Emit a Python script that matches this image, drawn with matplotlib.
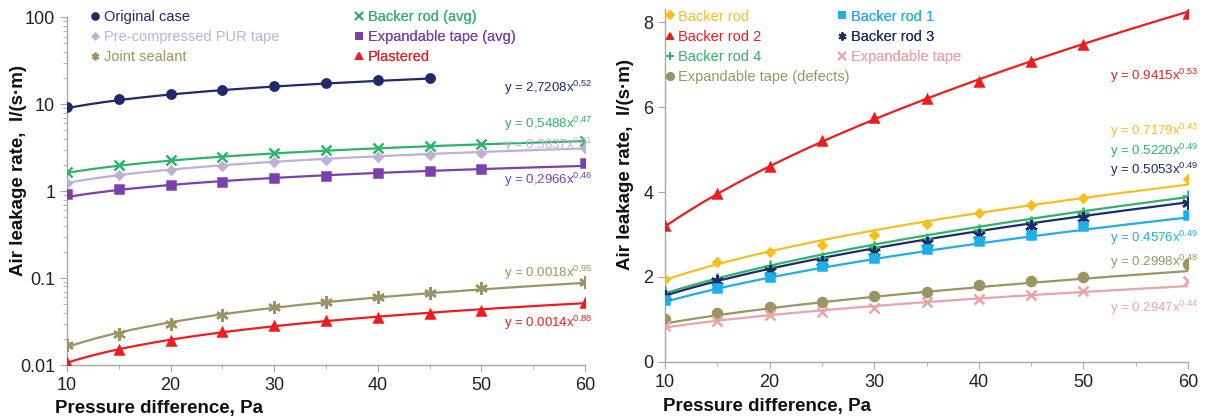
import numpy as np
import matplotlib
matplotlib.use("Agg")
import matplotlib.pyplot as plt
from matplotlib.lines import Line2D
from matplotlib.ticker import MultipleLocator, LogLocator, NullFormatter, FixedLocator

plt.rcParams['font.family'] = ['Liberation Sans', 'DejaVu Sans']
plt.rcParams['mathtext.default'] = 'regular'

# ------------------------ DATA ------------------------

pressure = [10, 15, 20, 25, 30, 35, 40, 45, 50, 60]
pressure_orig = [10, 15, 20, 25, 30, 35, 40, 45]

# left panel (log scale)
original_case = [9.3, 11.5, 13.0, 14.7, 16.0, 17.5, 18.8, 20.0]
backer_rod_avg = [1.65, 2.0, 2.3, 2.5, 2.75, 2.95, 3.1, 3.3, 3.45, 3.75]
pur_tape = [1.25, 1.55, 1.75, 1.95, 2.15, 2.3, 2.45, 2.6, 2.75, 3.1]
exp_tape_avg = [0.92, 1.05, 1.18, 1.28, 1.4, 1.5, 1.6, 1.7, 1.78, 2.1]
joint_sealant = [0.017, 0.023, 0.030, 0.038, 0.046, 0.053, 0.061, 0.068, 0.076, 0.089]
plastered = [0.0105, 0.015, 0.019, 0.024, 0.028, 0.032, 0.035, 0.039, 0.042, 0.051]

# right panel (linear scale)
backer_rod = [1.95, 2.35, 2.6, 2.75, 3.0, 3.25, 3.5, 3.7, 3.85, 4.3]
backer_rod_1 = [1.45, 1.75, 2.0, 2.25, 2.45, 2.65, 2.85, 3.0, 3.2, 3.45]
backer_rod_2 = [3.2, 3.95, 4.6, 5.2, 5.75, 6.2, 6.6, 7.05, 7.45, 8.2]
backer_rod_3 = [1.55, 1.9, 2.15, 2.35, 2.6, 2.8, 3.0, 3.2, 3.4, 3.75]
backer_rod_4 = [1.65, 1.95, 2.25, 2.45, 2.7, 2.9, 3.1, 3.3, 3.5, 3.9]
exp_tape_defects = [1.0, 1.15, 1.3, 1.4, 1.55, 1.65, 1.8, 1.9, 2.0, 2.3]
exp_tape = [0.85, 0.97, 1.1, 1.18, 1.28, 1.4, 1.48, 1.58, 1.68, 1.9]

# power trendline coefficients y = a*x^b, as printed on the chart
left_coef_a = [2.7208, 0.5488, 0.3837, 0.2966, 0.0018, 0.0014]
left_coef_b = [0.52, 0.47, 0.51, 0.46, 0.95, 0.88]
left_eq_labels = ["y = 2,7208x$^{0{,}52}$", "y = 0,5488x$^{0{,}47}$", "y = 0,3837x$^{0{,}51}$",
                  "y = 0,2966x$^{0{,}46}$", "y = 0.0018x$^{0{,}95}$", "y = 0.0014x$^{0.88}$"]
left_names = ["Original case", "Backer rod (avg)", "Pre-compressed PUR tape",
              "Expandable tape (avg)", "Joint sealant", "Plastered"]

right_coef_a = [0.9415, 0.7179, 0.5220, 0.5053, 0.4576, 0.2998, 0.2947]
right_coef_b = [0.53, 0.43, 0.49, 0.49, 0.49, 0.48, 0.44]
right_eq_labels = ["y = 0.9415x$^{0.53}$", "y = 0.7179x$^{0.43}$", "y = 0.5220x$^{0.49}$",
                   "y = 0.5053x$^{0.49}$", "y = 0.4576x$^{0.49}$", "y = 0.2998x$^{0.48}$",
                   "y = 0.2947x$^{0.44}$"]
right_names = ["Backer rod 2", "Backer rod", "Backer rod 4", "Backer rod 3",
               "Backer rod 1", "Expandable tape (defects)", "Expandable tape"]

# ------------------------ STYLE ------------------------

NAVY = '#1f2a6b'
GREEN = '#2fb36a'
LAVENDER = '#bfb0d8'
PURPLE = '#7b3fae'
OLIVE = '#9b9463'
RED = '#ee1c1c'
GOLD = '#f7bf1e'
SKY = '#1eaee9'
PINK = '#eba3ab'
AXIS_GREY = '#a6a6a6'

left_series = [
    (pressure_orig, original_case, NAVY, 'o', 6),
    (pressure, backer_rod_avg, GREEN, 'x', 7),
    (pressure, pur_tape, LAVENDER, 'D', 4),
    (pressure, exp_tape_avg, PURPLE, 's', 6),
    (pressure, joint_sealant, OLIVE, (6, 2, 0), 9),
    (pressure, plastered, RED, '^', 6),
]
left_eq_y = [15.3, 6.0, 3.4, 1.34, 0.114, 0.0304]

right_series = [
    (pressure, backer_rod_2, RED, '^', 6),
    (pressure, backer_rod, GOLD, 'D', 4.5),
    (pressure, backer_rod_4, GREEN, '+', 8),
    (pressure, backer_rod_3, NAVY, (6, 2, 0), 9),
    (pressure, backer_rod_1, SKY, 's', 6),
    (pressure, exp_tape_defects, OLIVE, 'o', 6.5),
    (pressure, exp_tape, PINK, 'x', 7),
]
right_eq_y = [6.73, 5.45, 4.98, 4.51, 2.92, 2.35, 1.27]


def style_axes(ax, xlabel_x, ylabel_x):
    for side in ('top', 'right'):
        ax.spines[side].set_visible(False)
    for side in ('left', 'bottom'):
        ax.spines[side].set_color(AXIS_GREY)
        ax.spines[side].set_linewidth(1.0)
    ax.tick_params(which='both', color=AXIS_GREY, direction='out', labelsize=13, labelcolor='#222222')
    ax.tick_params(which='major', length=5)
    ax.tick_params(which='minor', length=3)
    ax.set_xlim(10, 60)
    ax.xaxis.set_major_locator(MultipleLocator(10))
    ax.xaxis.set_minor_locator(MultipleLocator(5))
    ax.text(xlabel_x, -0.125, "Pressure difference, Pa", transform=ax.transAxes,
            ha='left', va='center', fontsize=13.5, fontweight='bold', color='#111111')
    ax.text(ylabel_x, 0.56, "Air leakage rate,  l/(s\u00b7m)", transform=ax.transAxes,
            rotation=90, ha='center', va='center', fontsize=13.5, fontweight='bold',
            color='#111111')


def draw_series(ax, series, coef_a, coef_b):
    for (xs, ys, color, marker, ms), a, b in zip(series, coef_a, coef_b):
        xt = np.linspace(xs[0], xs[-1], 200)
        ax.plot(xt, a * xt ** b, color=color, lw=1.6, zorder=2)
        ax.plot(xs, ys, ls='none', marker=marker, ms=ms, color=color,
                mec=color, mew=1.8, zorder=3)


def make_legend(ax, idx, series, names, x0, y0):
    handles = [Line2D([], [], ls='none', marker=series[i][3],
                      ms=min(series[i][4], 7) * 0.8, color=series[i][2], mew=1.4) for i in idx]
    labels = [names[i] for i in idx]
    leg = ax.legend(handles, labels, loc='upper left', bbox_to_anchor=(x0, y0),
                    bbox_transform=fig.transFigure, frameon=False, fontsize=10.5,
                    handlelength=0.6, handletextpad=0.3, labelspacing=0.42,
                    borderpad=0, borderaxespad=0)
    for txt, i in zip(leg.get_texts(), idx):
        txt.set_color(series[i][2])
    ax.add_artist(leg)
    return leg


fig = plt.figure(figsize=(12.14, 4.17), dpi=100)
ax1 = fig.add_axes([0.0552, 0.1247, 0.4267, 0.834])
ax2 = fig.add_axes([0.5478, 0.132, 0.4308, 0.8455])

# ------------------------ LEFT PANEL ------------------------
ax1.set_yscale('log')
ax1.set_ylim(0.01, 100)
draw_series(ax1, left_series, left_coef_a, left_coef_b)
style_axes(ax1, -0.024, -0.0946)
ax1.yaxis.set_major_locator(FixedLocator([0.01, 0.1, 1, 10, 100]))
ax1.yaxis.set_minor_locator(LogLocator(base=10, subs=np.arange(2, 10)))
ax1.yaxis.set_minor_formatter(NullFormatter())
ax1.set_yticklabels(['0.01', '0.1', '1', '10', '100'])
for (xs, ys, color, m, ms), lab, yy in zip(left_series, left_eq_labels, left_eq_y):
    ax1.text(60.7, yy, lab, ha='right', va='center', fontsize=9.5, color=color)

make_legend(ax1, [0, 2, 4], left_series, left_names, 0.0745, 0.976)
make_legend(ax1, [1, 3, 5], left_series, left_names, 0.292, 0.976)

# ------------------------ RIGHT PANEL ------------------------
ax2.set_ylim(0, 8.3)
draw_series(ax2, right_series, right_coef_a, right_coef_b)
style_axes(ax2, -0.004, -0.076)
ax2.yaxis.set_major_locator(FixedLocator([0, 2, 4, 6, 8]))
for (xs, ys, color, m, ms), lab, yy in zip(right_series, right_eq_labels, right_eq_y):
    ax2.text(61.0, yy, lab, ha='right', va='center', fontsize=9.5, color=color)

make_legend(ax2, [1, 0, 2, 5], right_series, right_names, 0.548, 0.977)
make_legend(ax2, [4, 3, 6], right_series, right_names, 0.69, 0.977)

fig.savefig("out.png", dpi=100)
